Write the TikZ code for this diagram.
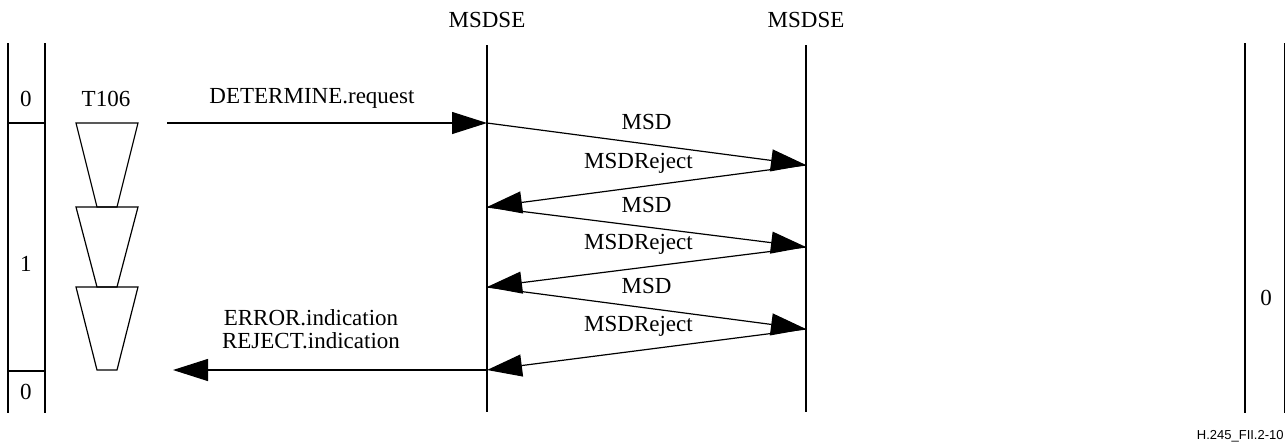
\documentclass[tikz,border=0pt]{standalone}
\usepackage{fontspec}
\setmainfont{Liberation Serif}
\newfontfamily\figfont{Liberation Sans}
\usetikzlibrary{arrows.meta,calc}
\tikzset{
    every node/.style={font=\fontsize{11.5}{11.5}\selectfont,inner sep=0pt},
    thinline/.style={line width=0.6pt},
    msg/.style={draw,line width=0.6pt,-{Triangle[length=17.5pt,width=11pt]}},
    msdlbl/.style={midway,yshift=11pt},
    rejlbl/.style={midway,yshift=11.5pt,xshift=-4pt},
    timer/.style={line width=0.6pt}
}

\begin{document}
\begin{tikzpicture}[x=0.5pt,y=-0.5pt]
\useasboundingbox (0,0) rectangle (1286,446);
% state columns
\draw[thinline] (8,43) -- (8,413) (45,43) -- (45,413);
\draw[thinline] (8,123) -- (45,123) (8,371) -- (45,371);
\node (st0) at (26,99) {0};
\node (st1) at (26,264) {1};
\node (st2) at (26,392) {0};
\draw[thinline] (1245,43) -- (1245,413) (1284.5,43) -- (1284.5,413);
\node (str) at (1266,298) {0};

% lifelines
\node (seA) at (487,20) {MSDSE};
\node (seB) at (806,20) {MSDSE};
\coordinate (seAtop) at (487,45); \coordinate (seAbot) at (487,412);
\coordinate (seBtop) at (806,45); \coordinate (seBbot) at (806,412);
\draw[thinline] (seAtop) -- (seAbot);
\draw[thinline] (seBtop) -- (seBbot);

% timer T106
\node (t106) at (106,99) {T106};
\foreach \a/\b in {123/207,207/287,287/370}
    \draw[timer] (76,\a) -- (138,\a) -- (117,\b) -- (97,\b) -- cycle;

% points on the lifelines
\foreach \n/\y in {1/123,2/207,3/287,4/370}
    \coordinate (A\n) at (487,\y);
\foreach \n/\y in {1/165,2/247,3/329}
    \coordinate (B\n) at (806,\y);
\coordinate (reqstart) at (167,123);
\coordinate (indend) at (173,370);

% primitives
\draw[msg] (reqstart) -- (A1);
\node (req) at (312,98) {DETERMINE.request};
\draw[msg] (A4) -- (indend);
\node[align=center] (ind) at (311,329) {ERROR.indication\\REJECT.indication};

% MSD / MSDReject exchange
\foreach \n/\m in {1/2,2/3,3/4}{
    \draw[msg] (A\n) -- node[msdlbl] (msd\n) {MSD} (B\n);
    \draw[msg] (B\n) -- node[rejlbl] (rej\n) {MSDReject} (A\m);
}

\node[anchor=east,font=\figfont\fontsize{6.5}{8}\selectfont] (figno) at (1284,436) {H.245\_FII.2-10};
\end{tikzpicture}
\end{document}
